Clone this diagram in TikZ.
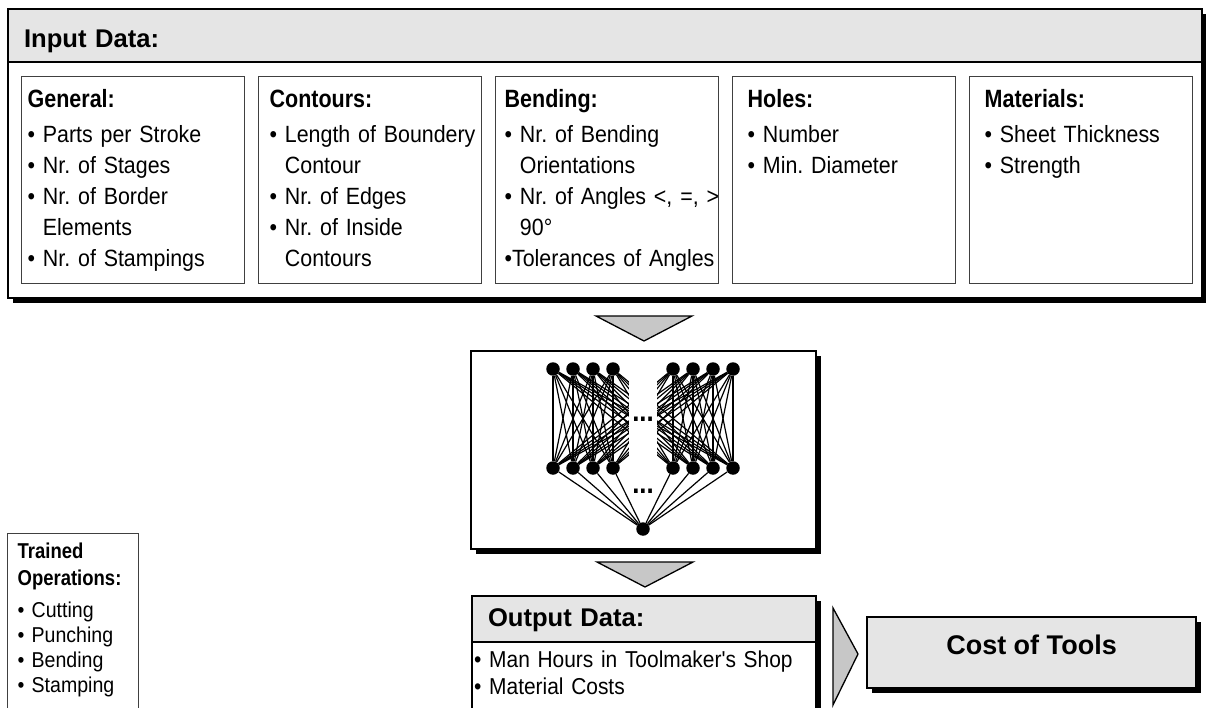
\documentclass[tikz,border=0pt]{standalone}
\usepackage{fontspec}
\setmainfont{Liberation Sans}
\newfontfamily\bodyfont[FakeStretch=0.91]{Liberation Sans}
\newfontfamily\narrowfont[FakeStretch=0.86]{Liberation Sans}
\usetikzlibrary{positioning, shadows}
\frenchspacing

\newcommand{\itemline}[1]{\mbox{\textbullet\ #1}}
\newcommand{\moreline}[1]{\mbox{\hphantom{\textbullet\ }#1}}
\newcommand{\boxhead}[2][25]{{\narrowfont\bfseries\fontsize{#1}{31}\selectfont #2}}

\tikzstyle{frame} = [rectangle, draw=black, line width=2pt, fill=white, inner sep=0pt]
\tikzstyle{shadowed} = [drop shadow={shadow xshift=5pt, shadow yshift=-5pt, fill=black, opacity=1}]
\tikzstyle{header} = [rectangle, draw=black, line width=2pt, fill=black!10, anchor=north west, align=left, inner xsep=16pt, inner ysep=0pt, font=\bfseries\fontsize{25.6}{30}\selectfont]
\tikzset{panel/.style={rectangle, draw=black!75, line width=1.3pt, anchor=north west, align=left, inner xsep=#1, inner ysep=4pt, text width=223pt-2*#1, text height=26.7pt, text depth=172.3pt, font=\bodyfont\fontsize{23.5}{31}\selectfont}}
\tikzstyle{legend} = [rectangle, draw=black!75, line width=1.3pt, anchor=north west, align=left, inner xsep=10pt, inner ysep=4pt, text width=111pt, text height=21pt, text depth=200pt, font=\bodyfont\fontsize{21.5}{25}\selectfont]
\tikzstyle{neuron} = [circle, fill=black, minimum size=13.5pt, inner sep=0pt]
\tikzstyle{link} = [line width=1.2pt]
\tikzstyle{pointer} = [draw=black, line width=1.3pt, fill=black!22, line join=miter]
\tikzstyle{dots} = [font=\narrowfont\bfseries\fontsize{30}{30}\selectfont, inner sep=0pt]

\begin{document}
\begin{tikzpicture}[x=1pt, y=-1pt]
\path [use as bounding box, clip] (0,0) rectangle (1206,708);

% input data
\node (input) [frame, shadowed, anchor=north west, minimum width=1194pt, minimum height=289pt] at (7,8) {};
\node (inhead) [header, text width=1162pt, text height=38.7pt, text depth=14.3pt] at (input.north west) {Input Data:};

\node (general) [panel=6pt] at (21,76) {\boxhead{General:}\\[4pt]
  \itemline{Parts per Stroke}\\ \itemline{Nr. of Stages}\\ \itemline{Nr. of Border}\\
  \moreline{Elements}\\ \itemline{Nr. of Stampings}};
\node (contours) [panel=11pt, right=12.7pt of general] {\boxhead{Contours:}\\[4pt]
  \itemline{Length of Boundery}\\ \moreline{Contour}\\ \itemline{Nr. of Edges}\\
  \itemline{Nr. of Inside}\\ \moreline{Contours}};
\node (bending) [panel=9pt, right=12.7pt of contours] {\boxhead{Bending:}\\[4pt]
  \itemline{Nr. of Bending}\\ \moreline{Orientations}\\ \itemline{Nr. of Angles <, =, >}\\
  \moreline{90°}\\ \mbox{\textbullet Tolerances of Angles}};
\node (holes) [panel=15pt, right=12.7pt of bending] {\boxhead{Holes:}\\[4pt]
  \itemline{Number}\\ \itemline{Min. Diameter}};
\node (materials) [panel=15pt, right=12.7pt of holes] {\boxhead{Materials:}\\[4pt]
  \itemline{Sheet Thickness}\\ \itemline{Strength}};

\draw [pointer] (596,316) -- (692,316) -- (644,341) -- cycle;

% network
\node (net) [frame, shadowed, anchor=north west, minimum width=345pt, minimum height=198pt] at (470,350) {};
\foreach \i/\x in {1/553,2/573,3/593,4/613,5/673,6/693,7/713,8/733}{
  \node (inp\i) [neuron] at (\x,369) {};
  \node (hid\i) [neuron] at (\x,468) {};
}
\node (outn) [neuron] at (643,529) {};
\foreach \i in {1,...,8}{
  \foreach \j in {1,...,8}
    \draw [link] (inp\i) -- (hid\j);
  \draw [link] (hid\i) -- (outn);
}
\fill [white] (629,379) rectangle (657,459);
\node (dotsA) [dots] at (643,419) {...};
\node (dotsB) [dots] at (643,491) {...};

\draw [pointer] (597,562) -- (693,562) -- (645,587) -- cycle;

% trained operations
\node (trained) [legend] at (7,533) {\boxhead[21.5]{Trained\\[2pt]Operations:}\\[7pt]
  \itemline{Cutting}\\ \itemline{Punching}\\ \itemline{Bending}\\ \itemline{Stamping}};

% output data
\node (outbox) [frame, shadowed, anchor=north west, minimum width=344pt, minimum height=113pt] at (471,595) {};
\node (outhead) [header, text width=312pt, text height=30pt, text depth=16pt] at (outbox.north west) {Output Data:};
\node (outlist) [anchor=north west, align=left, inner xsep=3pt, inner ysep=0pt, text width=338pt, text height=24pt, font=\bodyfont\fontsize{23}{27}\selectfont] at (outhead.south west)
  {\itemline{Man Hours in Toolmaker's Shop}\\ \itemline{Material Costs}};

\draw [pointer] (833,608) -- (858,654) -- (833,705) -- cycle;

\node (cost) [frame, shadowed, fill=black!10, anchor=north west, minimum width=329pt, text height=37pt, text depth=34pt, inner ysep=0pt, font=\bfseries\fontsize{27}{30}\selectfont] at (866,616) {Cost of Tools};

\end{tikzpicture}
\end{document}
